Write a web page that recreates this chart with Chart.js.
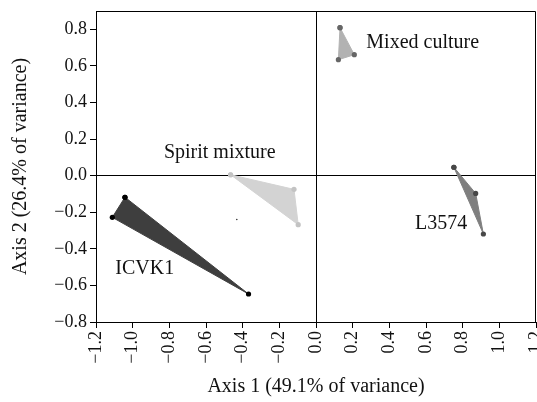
<!DOCTYPE html>
<html>
<head>
<meta charset="utf-8">
<style>
  html, body { margin: 0; padding: 0; background: #fff; }
  #wrap { position: relative; width: 537px; height: 402px; }
</style>
</head>
<body>
<div id="wrap"><canvas id="chart1"></canvas></div>
<script src="https://cdn.jsdelivr.net/npm/chart.js@4/dist/chart.umd.min.js"></script>
<script>
  // group scores on the first two axes
  const groups = ['ICVK1', 'Spirit mixture', 'Mixed culture', 'L3574']
  const icvk1X = [-1.042, -1.111, -0.368]
  const icvk1Y = [-0.118, -0.228, -0.647]
  const spiritX = [-0.466, -0.120, -0.097]
  const spiritY = [0.005, -0.075, -0.268]
  const mixedX = [0.131, 0.209, 0.122]
  const mixedY = [0.809, 0.661, 0.634]
  const l3574X = [0.752, 0.871, 0.913]
  const l3574Y = [0.046, -0.097, -0.319]
  const strayX = [-0.432]
  const strayY = [-0.240]

  const xTicks = [-1.2, -1.0, -0.8, -0.6, -0.4, -0.2, 0.0, 0.2, 0.4, 0.6, 0.8, 1.0, 1.2]
  const yTicks = [-0.8, -0.6, -0.4, -0.2, 0.0, 0.2, 0.4, 0.6, 0.8]

  // where the group names sit (data units)
  const labelX = [-0.934, -0.525, 0.582, 0.683]
  const labelY = [-0.508, 0.127, 0.727, -0.262]

  const FONT = "'Liberation Serif', 'DejaVu Serif', serif"

  function poly(xs, ys) {
    const pts = xs.map((x, i) => ({ x: x, y: ys[i] }))
    pts.push({ x: xs[0], y: ys[0] }) // close the hull
    return pts
  }

  function hull(label, xs, ys, fillColor, dotColor) {
    return {
      label: label,
      data: poly(xs, ys),
      showLine: true,
      fill: 'shape',
      tension: 0,
      backgroundColor: fillColor,
      borderColor: fillColor,
      borderWidth: 1,
      pointRadius: 2.6,
      pointBackgroundColor: dotColor,
      pointBorderColor: dotColor,
      pointBorderWidth: 0
    }
  }

  function fmt(v) {
    if (Math.abs(v) < 1e-9) v = 0
    return v.toFixed(1).replace('-', '\u2212')
  }

  const frame = {
    id: 'frame',
    afterDraw(chart) {
      const a = chart.chartArea
      const c = chart.ctx
      c.save()
      c.strokeStyle = '#000'
      c.lineWidth = 1
      c.beginPath()
      c.moveTo(a.left, a.top + 0.5)
      c.lineTo(a.right - 0.5, a.top + 0.5)
      c.lineTo(a.right - 0.5, a.bottom)
      c.stroke()
      c.restore()
    }
  }

  const names = {
    id: 'names',
    afterDatasetsDraw(chart) {
      const c = chart.ctx
      const sx = chart.scales.x
      const sy = chart.scales.y
      c.save()
      c.font = '20px ' + FONT
      c.fillStyle = '#111'
      c.textAlign = 'center'
      c.textBaseline = 'middle'
      groups.forEach((g, i) => {
        c.fillText(g, sx.getPixelForValue(labelX[i]), sy.getPixelForValue(labelY[i]))
      })
      c.restore()
    }
  }

  const zeroGrid = ctx => (ctx.tick && Math.abs(ctx.tick.value) < 1e-9 ? '#000' : 'rgba(0,0,0,0)')

  new Chart(document.getElementById('chart1'), {
    type: 'line',
    data: {
      datasets: [
        hull('ICVK1', icvk1X, icvk1Y, '#3e3e3e', '#000'),
        hull('Spirit mixture', spiritX, spiritY, '#d3d3d3', '#c3c3c3'),
        hull('Mixed culture', mixedX, mixedY, '#b2b2b2', '#666'),
        hull('L3574', l3574X, l3574Y, '#7f7f7f', '#474747'),
        {
          label: 'stray',
          data: strayX.map((x, i) => ({ x: x, y: strayY[i] })),
          showLine: false,
          pointRadius: 0.8,
          pointBackgroundColor: '#333',
          pointBorderWidth: 0
        }
      ]
    },
    options: {
      responsive: true,
      maintainAspectRatio: false,
      animation: false,
      layout: { autoPadding: false, padding: { top: 11, right: 1, left: 0, bottom: 0 } },
      plugins: {
        legend: { display: false },
        tooltip: { enabled: false }
      },
      scales: {
        x: {
          type: 'linear',
          min: -1.2,
          max: 1.2,
          afterBuildTicks: s => { s.ticks = xTicks.map(v => ({ value: v })) },
          afterFit: s => { s.height = 80; s.paddingLeft = 0; s.paddingRight = 0 },
          border: { display: true, color: '#000', width: 1 },
          grid: { color: zeroGrid, tickColor: '#000', tickLength: 6, lineWidth: 1 },
          ticks: {
            minRotation: 90,
            maxRotation: 90,
            padding: 3,
            color: '#111',
            font: { family: FONT, size: 18 },
            callback: v => fmt(v)
          },
          title: {
            display: true,
            text: 'Axis 1 (49.1% of variance)',
            color: '#111',
            font: { family: FONT, size: 20 },
            padding: { top: 0, bottom: 3 }
          }
        },
        y: {
          min: -0.8,
          max: 0.9,
          afterBuildTicks: s => { s.ticks = yTicks.map(v => ({ value: v })) },
          afterFit: s => { s.width = 96; s.paddingTop = 0; s.paddingBottom = 0 },
          border: { display: true, color: '#000', width: 1 },
          grid: { color: zeroGrid, tickColor: '#000', tickLength: 6, lineWidth: 1 },
          ticks: {
            padding: 3,
            color: '#111',
            font: { family: FONT, size: 18 },
            callback: v => fmt(v)
          },
          title: {
            display: true,
            text: 'Axis 2 (26.4% of variance)',
            color: '#111',
            font: { family: FONT, size: 20 },
            padding: { top: 9, bottom: 0 }
          }
        }
      }
    },
    plugins: [frame, names]
  })
</script>
</body>
</html>
